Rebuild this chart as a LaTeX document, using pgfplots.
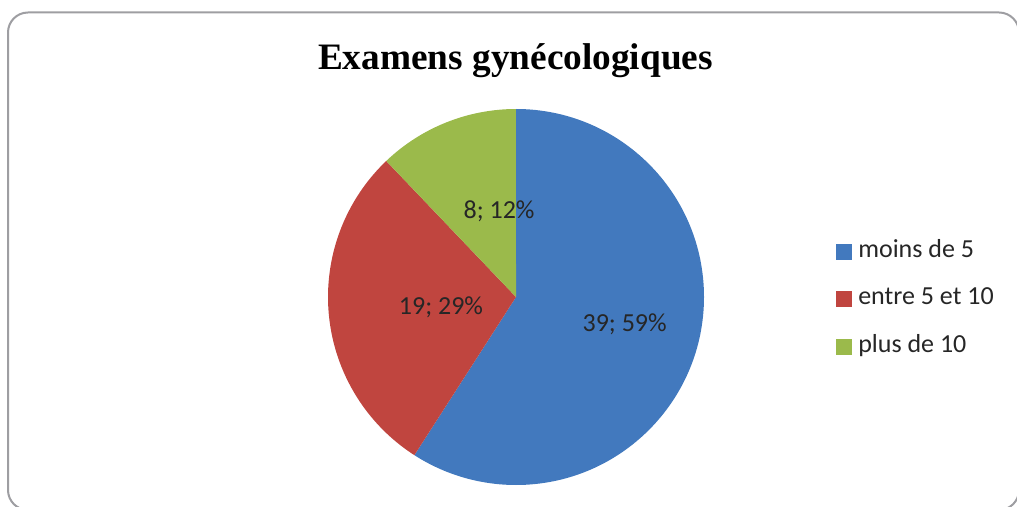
\documentclass[border=0pt]{standalone}
\usepackage{pgfplots}
\usepackage{pgfplotstable}
\pgfplotsset{compat=1.18}
\usepackage{fontspec}
\setmainfont{Carlito}
\newfontfamily\titlefont{Liberation Serif}

\definecolor{pieblue}{HTML}{4279BE}
\definecolor{piered}{HTML}{C0453F}
\definecolor{piegreen}{HTML}{9BBA4B}
\definecolor{framegray}{HTML}{9E9EA2}
\definecolor{labeltext}{HTML}{262626}

% pie data: value and percentage
\pgfplotstableread[col sep=comma]{
label,value,pct
moins de 5,39,59
entre 5 et 10,19,29
plus de 10,8,12
}\piedata

\begin{document}
\begin{tikzpicture}[x=1pt,y=1pt]
\path[use as bounding box] (0,0) rectangle (1017,506);
\clip (0,0) rectangle (1017,506);
\draw[framegray, line width=2pt, rounded corners=20pt] (8,-4) rectangle (1019,493.5);

\node[anchor=base, font=\titlefont\bfseries\fontsize{37.3}{40}\selectfont, text=black]
  at (515.5,436) {Examens gynécologiques};

\pgfplotstablegetelem{0}{value}\of\piedata \let\va\pgfplotsretval
\pgfplotstablegetelem{1}{value}\of\piedata \let\vb\pgfplotsretval
\pgfplotstablegetelem{2}{value}\of\piedata \let\vc\pgfplotsretval
\pgfmathsetmacro\tot{\va+\vb+\vc}
\pgfmathsetmacro\aone{90-\va/\tot*360}
\pgfmathsetmacro\atwo{\aone-\vb/\tot*360}
\pgfmathsetmacro\athree{\atwo-\vc/\tot*360}

\begin{axis}[
  at={(328pt,21pt)}, anchor=south west,
  width=376pt, height=376pt, scale only axis,
  xmin=-1, xmax=1, ymin=-1, ymax=1,
  hide axis, clip=false,
  legend style={at={(axis description cs:1.351,0.654)}, anchor=north west,
    draw=none, fill=none, inner sep=0pt,
    font=\fontsize{26}{30}\selectfont, text=labeltext,
    nodes={text height=18pt, text depth=6pt, inner sep=0pt},
    row sep=23.7pt, column sep=0pt},
  legend cell align=left,
  legend image code/.code={\fill[#1] (0pt,-7.5pt) rectangle (15pt,7.5pt);},
]
\fill[pieblue] (axis cs:0,0) -- (axis cs:0,1) arc[start angle=90, end angle=\aone, radius=1] -- cycle;
\fill[piered] (axis cs:0,0) -- ({cos(\aone)},{sin(\aone)}) arc[start angle=\aone, end angle=\atwo, radius=1] -- cycle;
\fill[piegreen] (axis cs:0,0) -- ({cos(\atwo)},{sin(\atwo)}) arc[start angle=\atwo, end angle=\athree, radius=1] -- cycle;

\addlegendimage{pieblue}
\addlegendentry{\hspace{6.7pt}moins de 5}
\addlegendimage{piered}
\addlegendentry{\hspace{6.7pt}entre 5 et 10}
\addlegendimage{piegreen}
\addlegendentry{\hspace{6.7pt}plus de 10}

\node[font=\fontsize{26}{30}\selectfont, text=labeltext] at (axis cs:0.578,-0.144) {\va; 59\%};
\node[font=\fontsize{26}{30}\selectfont, text=labeltext] at (axis cs:-0.399,-0.053) {\vb; 29\%};
\node[font=\fontsize{26}{30}\selectfont, text=labeltext] at (axis cs:-0.090,0.457) {\vc; 12\%};
\end{axis}
\end{tikzpicture}
\end{document}
